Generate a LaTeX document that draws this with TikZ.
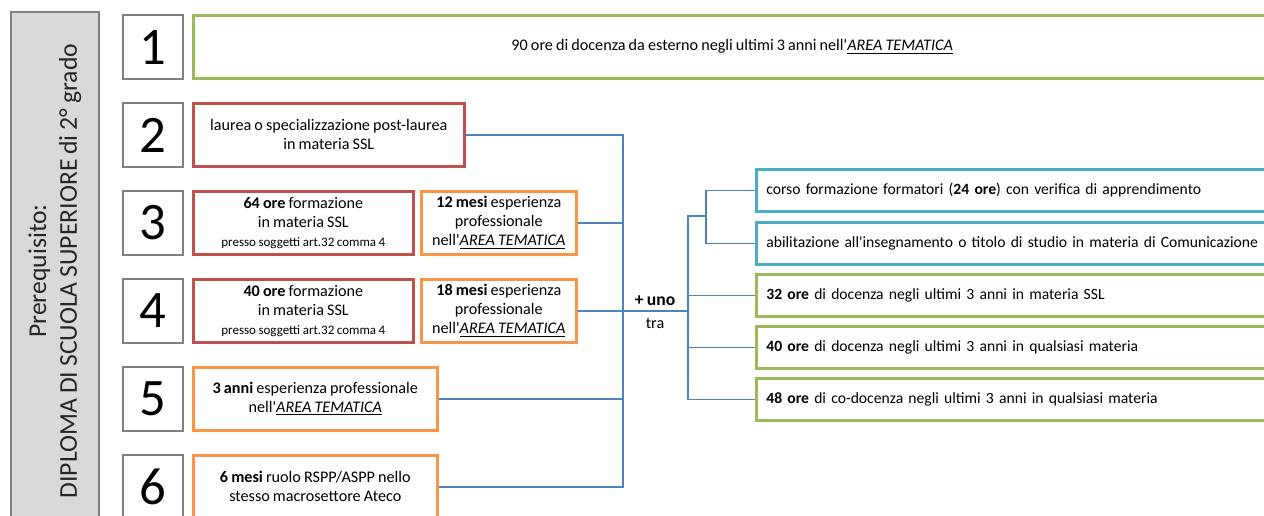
\documentclass[tikz,border=0pt]{standalone}
\usepackage{fontspec}
\setmainfont{Carlito}[Ligatures=TeXOff, WordSpace=0.85]

\definecolor{boxgreen}{HTML}{9BBB59}
\definecolor{boxred}{HTML}{C0504D}
\definecolor{boxorange}{HTML}{F79646}
\definecolor{boxaqua}{HTML}{4BACC6}
\definecolor{linkblue}{HTML}{4F81BD}
\definecolor{sidegray}{HTML}{D9D9D9}
\definecolor{framegray}{HTML}{7F7F7F}

\newcommand\areatem{\underline{\textit{AREA TEMATICA}}}

\tikzset{
  sidebox/.style={draw=framegray, fill=sidegray, line width=1.2pt, rotate=90,
    minimum width=10.36cm, minimum height=1.76cm, align=center,
    text=black!85, font=\fontsize{14.6}{17.5}\selectfont},
  numbox/.style={draw=framegray, line width=1.2pt, anchor=north west,
    minimum width=1.2cm, minimum height=1.28cm, inner sep=0pt,
    font=\fontsize{30}{30}\selectfont},
  reqbox/.style={line width=1.5pt, anchor=north west, align=center,
    minimum height=1.26cm, inner sep=2pt, font=\fontsize{9.2}{10.8}\selectfont},
  optbox/.style={line width=1.5pt, anchor=north west, align=left,
    text width=11cm, inner xsep=0.2cm, minimum height=0.84cm,
    font=\fontsize{8.9}{10.8}\selectfont},
  link/.style={draw=linkblue, line width=0.8pt},
  small/.style={font=\fontsize{9.2}{10.8}\selectfont}
}

\begin{document}
\begin{tikzpicture}[x=0.02cm,y=-0.02cm]
\useasboundingbox (0,0) rectangle (1264,516);
\clip (0,0) rectangle (1264,516);

\node[sidebox] (pre) at (55,271) {Prerequisito:\\DIPLOMA DI SCUOLA SUPERIORE di 2° grado};

\foreach \i in {1,...,6}
  \node[numbox] (n\i) at (122,{14+88*(\i-1)}) {\i};

\node[reqbox, draw=boxgreen, minimum width=21.56cm] (a1) at (192,14) {90 ore di docenza da esterno negli ultimi 3 anni nell'\areatem};
\node[reqbox, draw=boxred, minimum width=5.42cm] (a2) at (192,102) {laurea o specializzazione post-laurea\\in materia SSL};
\node[reqbox, draw=boxred, minimum width=4.4cm] (a3) at (192,190) {\textbf{64 ore} formazione\\in materia SSL\\{\fontsize{7.4}{9}\selectfont presso soggetti art.32 comma 4}};
\node[reqbox, draw=boxorange, minimum width=3.1cm] (b3) at (420,190) {\textbf{12 mesi} esperienza\\professionale\\nell'\areatem};
\node[reqbox, draw=boxred, minimum width=4.4cm] (a4) at (192,278) {\textbf{40 ore} formazione\\in materia SSL\\{\fontsize{7.4}{9}\selectfont presso soggetti art.32 comma 4}};
\node[reqbox, draw=boxorange, minimum width=3.1cm] (b4) at (420,278) {\textbf{18 mesi} esperienza\\professionale\\nell'\areatem};
\node[reqbox, draw=boxorange, minimum width=4.88cm] (a5) at (192,366) {\textbf{3 anni} esperienza professionale\\nell'\areatem};
\node[reqbox, draw=boxorange, minimum width=4.88cm] (a6) at (192,454) {\textbf{6 mesi} ruolo RSPP/ASPP nello\\stesso macrosettore Ateco};

\node[optbox, draw=boxaqua] (r1) at (755,168) {corso formazione formatori (\textbf{24 ore}) con verifica di apprendimento};
\node[optbox, draw=boxaqua] (r2) at (755,221) {abilitazione all'insegnamento o titolo di studio in materia di Comunicazione};
\node[optbox, draw=boxgreen] (r3) at (755,273) {\textbf{32 ore} di docenza negli ultimi 3 anni in materia SSL};
\node[optbox, draw=boxgreen] (r4) at (755,325) {\textbf{40 ore} di docenza negli ultimi 3 anni in qualsiasi materia};
\node[optbox, draw=boxgreen] (r5) at (755,377) {\textbf{48 ore} di co-docenza negli ultimi 3 anni in qualsiasi materia};

\coordinate (bus) at (623,0);
\coordinate (fork) at (688,0);
\coordinate (pair) at (706,216);

\draw[link] (a2.east) -| (a6.east -| bus) -- (a6.east);
\draw[link] (b3.east) -- (b3.east -| bus);
\draw[link] (b4.east) -- (b4.east -| fork);
\draw[link] (a5.east) -- (a5.east -| bus);

\draw[link] (r1.west) -| (pair) |- (r2.west);
\draw[link] (pair) -- (pair -| fork) |- (r5.west);
\draw[link] (r3.west) -- (r3.west -| fork);
\draw[link] (r4.west) -- (r4.west -| fork);

\node[small, font=\bfseries] (uno) at (655,301) {+ uno};
\node[small] (tra) at (655,323) {tra};
\end{tikzpicture}
\end{document}
